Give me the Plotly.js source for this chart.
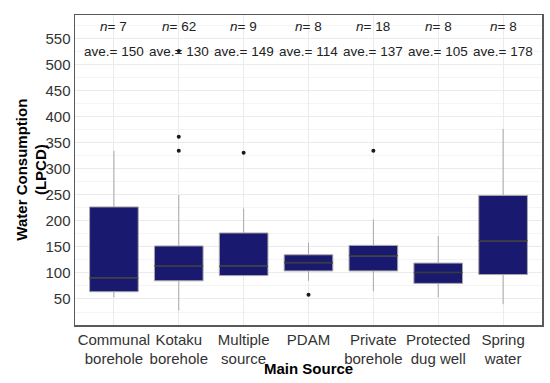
<!DOCTYPE html>
<html>
<head>
<meta charset="utf-8">
<script src="https://cdn.plot.ly/plotly-3.0.1.min.js"></script>
<style>html,body{margin:0;padding:0;background:#fff;}#chart{width:550px;height:383px;}</style>
</head>
<body>
<div id="chart"></div>
<script>
// Data
const categories = ["Communal<br>borehole", "Kotaku<br>borehole", "Multiple<br>source", "PDAM", "Private<br>borehole", "Protected<br>dug well", "Spring<br>water"];
const lowerFence = [53, 28, 94, 85, 65, 53, 40];
const q1 = [64, 85, 95, 104, 104, 80, 97];
const median = [90, 114, 113, 120, 133, 101, 162];
const q3 = [227, 152, 177, 135, 153, 119, 249];
const upperFence = [335, 250, 224, 158, 203, 171, 377];
const outlierCats = ["Kotaku<br>borehole", "Kotaku<br>borehole", "Kotaku<br>borehole", "Multiple<br>source", "PDAM", "Private<br>borehole"];
const outlierVals = [362, 335, 527, 331, 58, 335];
const nCounts = [7, 62, 9, 8, 18, 8, 8];
const aveValues = [150, 130, 149, 114, 137, 105, 178];
const xTitle = "Main Source";
const yTitle = "Water Consumption<br>(LPCD)";

const FONT = "Liberation Sans, Arial, sans-serif";

const traces = [
  {
    type: "box",
    x: categories,
    q1: q1, median: median, q3: q3,
    lowerfence: lowerFence, upperfence: upperFence,
    fillcolor: "#191970",
    line: {color: "#a8a8a8", width: 1},
    whiskerwidth: 0,
    width: 0.75,
    boxpoints: false,
    hoverinfo: "skip",
    showlegend: false
  },
  {
    type: "box",
    x: categories,
    q1: median, median: median, q3: median,
    lowerfence: median, upperfence: median,
    fillcolor: "rgba(0,0,0,0)",
    line: {color: "#3a3a3a", width: 1.6},
    whiskerwidth: 0,
    width: 0.75,
    boxpoints: false,
    hoverinfo: "skip",
    showlegend: false
  },
  {
    type: "scatter",
    mode: "markers",
    x: outlierCats,
    y: outlierVals,
    marker: {color: "#1a1a1a", size: 4},
    hoverinfo: "skip",
    showlegend: false
  }
];

const annotations = [];
categories.forEach((c, i) => {
  annotations.push({
    x: c, y: 574, xref: "x", yref: "y",
    text: "<i>n</i>= " + nCounts[i],
    showarrow: false, font: {family: FONT, size: 13.5, color: "#222"}
  });
  annotations.push({
    x: c, y: 525, xref: "x", yref: "y",
    text: "ave.= " + aveValues[i],
    showarrow: false, font: {family: FONT, size: 13.5, color: "#222"}
  });
});
annotations.push({
  x: -0.095, y: 0.5, xref: "paper", yref: "paper",
  xanchor: "center", yanchor: "middle",
  text: "<b>" + yTitle + "</b>", textangle: -90,
  showarrow: false, font: {family: FONT, size: 15, color: "#000"}
});
annotations.push({
  x: 0.5, y: -0.139, xref: "paper", yref: "paper",
  xanchor: "center", yanchor: "middle",
  text: "<b>" + xTitle + "</b>",
  showarrow: false, font: {family: FONT, size: 15, color: "#000"}
});

const layout = {
  width: 550, height: 383,
  margin: {l: 75, r: 8, t: 15, b: 58},
  paper_bgcolor: "#fff",
  plot_bgcolor: "#fff",
  font: {family: FONT, color: "#333"},
  boxmode: "overlay",
  xaxis: {
    type: "category",
    range: [-0.6, 6.6],
    tickangle: 0,
    automargin: false,
    showgrid: true, gridcolor: "#ebebeb", gridwidth: 1,
    showline: true, mirror: true, linecolor: "#5a5a5a", linewidth: 1.5,
    ticks: "",
    tickfont: {family: FONT, size: 15, color: "#333"},
    zeroline: false
  },
  yaxis: {
    range: [0, 596],
    automargin: false,
    tickvals: [50, 100, 150, 200, 250, 300, 350, 400, 450, 500, 550],
    showgrid: true, gridcolor: "#ebebeb", gridwidth: 1,
    minor: {tickvals: [25, 75, 125, 175, 225, 275, 325, 375, 425, 475, 525, 575], showgrid: true, gridcolor: "#f4f4f4", gridwidth: 1},
    showline: true, mirror: true, linecolor: "#5a5a5a", linewidth: 1.5,
    ticks: "",
    tickfont: {family: FONT, size: 15, color: "#333"},
    zeroline: false
  },
  annotations: annotations
};

Plotly.newPlot("chart", traces, layout, {displayModeBar: false, staticPlot: true});
</script>
</body>
</html>
